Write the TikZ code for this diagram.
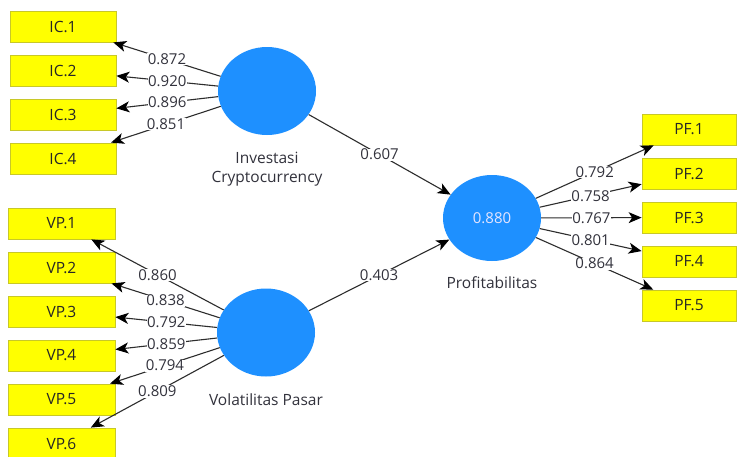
\documentclass[tikz,border=0pt]{standalone}
\usepackage{fontspec}
\setmainfont{Open Sans}
\usetikzlibrary{arrows.meta,shapes.geometric}
\definecolor{lvblue}{RGB}{30,144,255}
\definecolor{boxyel}{RGB}{255,255,0}
\definecolor{boxedge}{RGB}{200,200,40}
\definecolor{linegray}{RGB}{45,45,45}
\definecolor{txtgray}{RGB}{50,50,60}
\tikzset{
  ind/.style={draw=boxedge, fill=boxyel, line width=0.8pt, minimum height=31pt, inner sep=0pt, text=black!85, font=\fontsize{15.5}{17}\selectfont},
  icbox/.style={ind, minimum width=106pt},
  vpbox/.style={ind, minimum width=107pt},
  pfbox/.style={ind, minimum width=94pt},
  lv/.style={ellipse, fill=lvblue, inner sep=0pt, minimum width=98pt, minimum height=88pt},
  lvname/.style={text=txtgray, align=center, font=\fontsize{15.5}{19}\selectfont},
  tipk/.tip={Stealth[length=13pt,width=11pt,inset=3.5pt,color=black]},
  load/.style={draw=linegray, line width=1.1pt, -tipk},
  wt/.style={midway, fill=white, inner sep=0.5pt, text=txtgray, font=\fontsize{15}{17}\selectfont}
}
\begin{document}
\begin{tikzpicture}[x=1pt,y=-1pt]
\useasboundingbox (0,0) rectangle (738,456);
\clip (0,0) rectangle (738,456);
\fill[white] (0,0) rectangle (738,456);
% latent variables
\node[lv] (ic) at (267,91) {};
\node[lv] (vp) at (266,332.5) {};
\node[lv, minimum height=86pt, text=white!90!blue, font=\fontsize{15}{17}\selectfont] (pf) at (492,218) {0.880};
\node[lvname] (icname) at (267,169.5) {Investasi\\Cryptocurrency};
\node[lvname] (vpname) at (266,400) {Volatilitas Pasar};
\node[lvname] (pfname) at (492,283) {Profitabilitas};
% indicators
\node[icbox] (ic1) at (63,26.5) {IC.1};
\node[icbox] (ic2) at (63,70.5) {IC.2};
\node[icbox] (ic3) at (63,114.5) {IC.3};
\node[icbox] (ic4) at (63,158.5) {IC.4};
\node[vpbox] (vp1) at (61.5,223.5) {VP.1};
\node[vpbox] (vp2) at (61.5,267.5) {VP.2};
\node[vpbox] (vp3) at (61.5,311.5) {VP.3};
\node[vpbox] (vp4) at (61.5,355.5) {VP.4};
\node[vpbox] (vp5) at (61.5,399.5) {VP.5};
\node[vpbox] (vp6) at (61.5,443.5) {VP.6};
\node[pfbox] (pf1) at (689,129.5) {PF.1};
\node[pfbox] (pf2) at (689,173.5) {PF.2};
\node[pfbox] (pf3) at (689,217.5) {PF.3};
\node[pfbox] (pf4) at (689,261.5) {PF.4};
\node[pfbox] (pf5) at (689,305.5) {PF.5};
% loadings IC
\draw[load] (ic) -- node[wt]{0.872} (ic1);
\draw[load] (ic) -- node[wt]{0.920} (ic2);
\draw[load] (ic) -- node[wt]{0.896} (ic3);
\draw[load] (ic) -- node[wt]{0.851} (ic4);
% loadings VP
\draw[load] (vp) -- node[wt]{0.860} (vp1);
\draw[load] (vp) -- node[wt]{0.838} (vp2);
\draw[load] (vp) -- node[wt]{0.792} (vp3);
\draw[load] (vp) -- node[wt]{0.859} (vp4);
\draw[load] (vp) -- node[wt]{0.794} (vp5);
\draw[load] (vp) -- node[wt]{0.809} (vp6);
% loadings PF
\draw[load] (pf) -- node[wt]{0.792} (pf1);
\draw[load] (pf) -- node[wt]{0.758} (pf2);
\draw[load] (pf) -- node[wt]{0.767} (pf3);
\draw[load] (pf) -- node[wt]{0.801} (pf4);
\draw[load] (pf) -- node[wt]{0.864} (pf5);
% paths
\draw[load] (ic) -- node[wt]{0.607} (pf);
\draw[load] (vp) -- node[wt]{0.403} (pf);
\end{tikzpicture}
\end{document}
